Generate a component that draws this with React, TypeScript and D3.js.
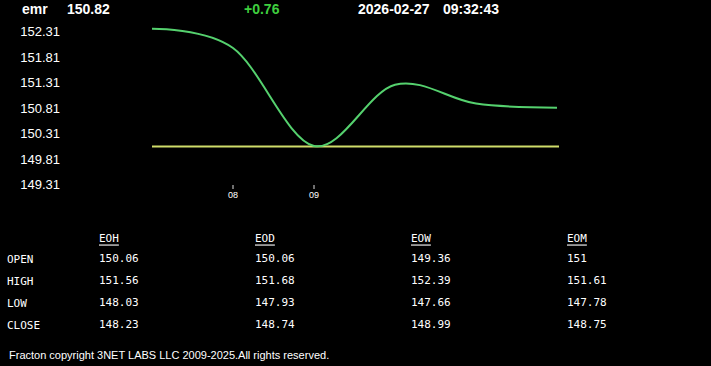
import React from "react";
import * as d3 from "d3";

const symbol = "emr";
const lastPrice = "150.82";
const change = "+0.76";
const dateStr = "2026-02-27";
const timeStr = "09:32:43";
const openPrice = 150.06;

const times = ["07:00", "08:00", "09:00", "10:00", "11:00", "12:00"];
const prices = [152.37, 151.99, 150.07, 151.27, 150.9, 150.82];

const yTicks = [152.31, 151.81, 151.31, 150.81, 150.31, 149.81, 149.31];
const xTicks = ["08:00", "09:00"];

const columns = ["EOH", "EOD", "EOW", "EOM"];
const rowLabels = ["OPEN", "HIGH", "LOW", "CLOSE"];
const eohValues = ["150.06", "151.56", "148.03", "148.23"];
const eodValues = ["150.06", "151.68", "147.93", "148.74"];
const eowValues = ["149.36", "152.39", "147.66", "148.99"];
const eomValues = ["151", "151.61", "147.78", "148.75"];

const footer = "Fracton copyright 3NET LABS LLC 2009-2025.All rights reserved.";

const W = 711;
const H = 366;

const parseT = (s: string) => {
  const [h, m] = s.split(":").map(Number);
  return h * 60 + m;
};

export default function App() {
  const x = d3.scaleLinear().domain([parseT("07:00"), parseT("08:00")]).range([152, 233]);
  const y = d3.scaleLinear().domain([149.31, 152.31]).range([184.7, 31.7]);

  const pts: [number, number][] = times.map((t, i) => [parseT(t), prices[i]]);
  const line = d3
    .line<[number, number]>()
    .x((d) => x(d[0]))
    .y((d) => y(d[1]))
    .curve(d3.curveCardinal.tension(0));

  const x0 = x(parseT(times[0]));
  const x1 = x(parseT(times[times.length - 1])) + 2;

  const colX = [99, 255, 411, 567];
  const rowY = [259, 281, 303, 325];
  const tableVals = [eohValues, eodValues, eowValues, eomValues];

  const sans = "'Liberation Sans', Arial, sans-serif";
  const mono = "'DejaVu Sans Mono', 'Liberation Mono', monospace";

  return (
    <div style={{ position: "fixed", left: 0, top: 0, width: W, height: H, background: "#000" }}>
      <svg width={W} height={H} style={{ display: "block" }}>
        <rect x={0} y={0} width={W} height={H} fill="#000" />
        <g fontFamily={sans} fontWeight="bold" fontSize={14} fill="#fff">
          <text x={22} y={14}>{symbol}</text>
          <text x={67} y={14}>{lastPrice}</text>
          <text x={244} y={14} fill="#3fcf3f">{change}</text>
          <text x={358} y={14}>{dateStr}</text>
          <text x={443} y={14}>{timeStr}</text>
        </g>
        <g fontFamily={sans} fontSize={13} fill="#fff">
          {yTicks.map((v) => (
            <text key={v} x={60} y={y(v)} textAnchor="end" dominantBaseline="central">
              {v.toFixed(2)}
            </text>
          ))}
        </g>
        <line x1={x0} x2={x1} y1={y(openPrice)} y2={y(openPrice)} stroke="#cfdc6a" strokeWidth={2} />
        <path d={line(pts) || ""} fill="none" stroke="#55d16e" strokeWidth={2} />
        <g fontFamily={sans} fontSize={9} fill="#fff">
          {xTicks.map((t) => (
            <g key={t}>
              <line x1={x(parseT(t))} x2={x(parseT(t))} y1={185} y2={189} stroke="#ddd" strokeWidth={1} />
              <text x={x(parseT(t))} y={195} textAnchor="middle" dominantBaseline="central">
                {t.slice(0, 2)}
              </text>
            </g>
          ))}
        </g>
        <g fontFamily={mono} fontSize={11} fill="#fff">
          {columns.map((c, i) => (
            <text key={c} x={colX[i]} y={238} dominantBaseline="central" textDecoration="underline">
              {c}
            </text>
          ))}
          {rowLabels.map((r, j) => (
            <text key={r} x={7} y={rowY[j]} dominantBaseline="central">
              {r}
            </text>
          ))}
          {tableVals.map((col, i) =>
            col.map((v, j) => (
              <text key={i + "-" + j} x={colX[i]} y={rowY[j] - 1} dominantBaseline="central">
                {v}
              </text>
            ))
          )}
        </g>
        <text x={9} y={355} fontFamily={sans} fontSize={11} fill="#fff" dominantBaseline="central">
          {footer}
        </text>
      </svg>
    </div>
  );
}
